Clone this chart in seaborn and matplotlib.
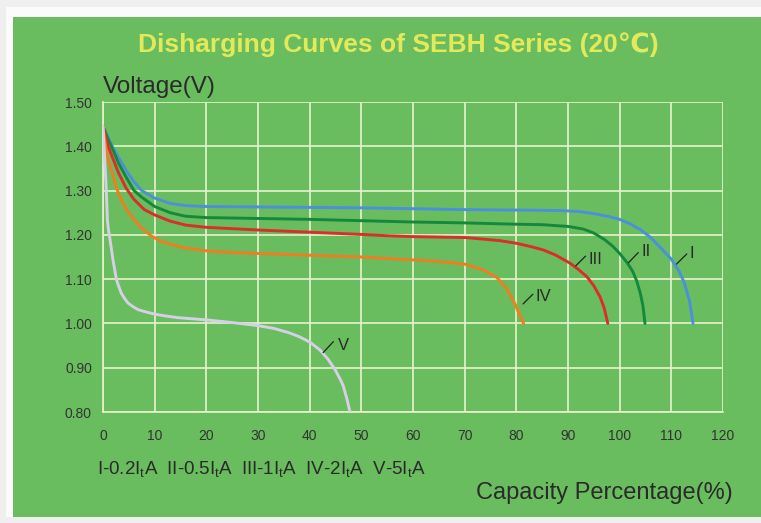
import pandas as pd
import matplotlib.pyplot as plt
from matplotlib.patches import Rectangle
import seaborn as sns

# curvas de descarga (capacidad %, voltaje V)
cap_I = [0, 1, 2, 3, 4.5, 6, 7.5, 10, 13, 16, 20, 30, 40, 50, 60, 70, 80, 88, 92, 95,
         98, 100, 102, 104, 106, 108, 110, 111.5, 112.5, 113.5, 114.2]
volt_I = [1.445, 1.42, 1.395, 1.375, 1.345, 1.32, 1.30, 1.283, 1.271, 1.266, 1.264, 1.263,
          1.262, 1.261, 1.259, 1.257, 1.256, 1.255, 1.253, 1.248, 1.241, 1.235, 1.225, 1.212,
          1.194, 1.170, 1.145, 1.118, 1.092, 1.052, 1.00]

cap_II = [0, 1, 2, 3, 4.5, 6, 7.5, 10, 13, 16, 20, 30, 40, 50, 60, 70, 80, 85, 90, 93, 95,
          97, 98.7, 100, 101.4, 102.5, 103.3, 104, 104.5, 104.9]
volt_II = [1.445, 1.415, 1.39, 1.362, 1.33, 1.30, 1.285, 1.264, 1.250, 1.242, 1.239, 1.237,
           1.235, 1.232, 1.229, 1.227, 1.224, 1.223, 1.219, 1.213, 1.204, 1.19, 1.174, 1.158,
           1.138, 1.118, 1.096, 1.068, 1.04, 1.00]

cap_III = [0, 1, 2, 3, 4.5, 6, 8, 10, 13, 16, 20, 30, 40, 50, 55, 60, 65, 70, 73, 76.8,
           80, 83, 85.2, 87.5, 90.4, 92, 93.7, 95, 96.2, 97, 97.7]
volt_III = [1.445, 1.40, 1.37, 1.34, 1.305, 1.28, 1.257, 1.245, 1.231, 1.222, 1.217, 1.211,
            1.206, 1.201, 1.198, 1.196, 1.195, 1.194, 1.191, 1.187, 1.181, 1.173, 1.166, 1.155,
            1.136, 1.122, 1.105, 1.085, 1.06, 1.035, 1.00]

cap_IV = [0, 0.5, 1, 2, 2.8, 3.5, 4.5, 5.9, 7.5, 9.4, 11, 13, 16, 20, 25, 30, 40, 50, 57.4,
          63.9, 70, 73.6, 76.2, 78.1, 79.7, 80.8, 81.4]
volt_IV = [1.445, 1.40, 1.37, 1.33, 1.30, 1.28, 1.258, 1.236, 1.215, 1.197, 1.187, 1.179,
           1.170, 1.164, 1.160, 1.158, 1.154, 1.150, 1.145, 1.141, 1.134, 1.121, 1.104, 1.079,
           1.045, 1.015, 1.00]

cap_V = [0, 0.3, 0.64, 0.85, 1.05, 1.29, 1.94, 2.58, 3.0, 3.55, 4.2, 4.84, 5.8, 6.8, 8.3,
         10, 12, 14.5, 20, 25, 30, 33, 36, 38, 40, 42, 43.5, 44.9, 46, 46.5, 47.2, 47.8]
volt_V = [1.445, 1.38, 1.30, 1.234, 1.212, 1.195, 1.143, 1.10, 1.085, 1.068, 1.056, 1.046,
          1.038, 1.031, 1.026, 1.021, 1.017, 1.013, 1.008, 1.002, 0.995, 0.989, 0.979, 0.970,
          0.958, 0.940, 0.920, 0.896, 0.872, 0.859, 0.83, 0.80]

series = ['I', 'II', 'III', 'IV', 'V']
colores = ['#4a90dc', '#14893e', '#da2e2a', '#ef7d22', '#d6cfe8']

# etiquetas de cada curva: posicion del texto y linea guia
etiqueta_x = [113.9, 105.2, 95.4, 85.2, 46.6]
etiqueta_y = [1.157, 1.162, 1.145, 1.060, 0.951]
guia_x = [(111.0, 113.0), (101.7, 103.6), (91.5, 93.4), (81.3, 83.2), (42.6, 44.6)]
guia_y = [(1.134, 1.157), (1.137, 1.160), (1.130, 1.152), (1.044, 1.066), (0.934, 0.959)]

ticks_x = list(range(0, 121, 10))
ticks_y = [0.80, 0.90, 1.00, 1.10, 1.20, 1.30, 1.40, 1.50]

datos = pd.concat([
    pd.DataFrame({'capacidad': c, 'voltaje': v, 'serie': s})
    for c, v, s in zip([cap_I, cap_II, cap_III, cap_IV, cap_V],
                       [volt_I, volt_II, volt_III, volt_IV, volt_V], series)
], ignore_index=True)

verde = '#69bd5e'
grilla = '#e8f2cc'
texto = '#2a2a2a'

sns.set_style('white', {'axes.facecolor': verde})
plt.rcParams['font.family'] = ['Liberation Sans', 'DejaVu Sans']
plt.rcParams['mathtext.fontset'] = 'custom'
plt.rcParams['mathtext.rm'] = 'Liberation Sans'
plt.rcParams['mathtext.it'] = 'Liberation Sans:italic'

fig = plt.figure(figsize=(7.61, 5.23), dpi=100, facecolor='#efefef')
# marco blanco y panel verde de fondo
fig.patches.append(Rectangle((6 / 761, 1 - 517 / 523), 1, (517 - 7) / 523,
                             transform=fig.transFigure, facecolor='#fbfbfb', edgecolor='none', zorder=-2))
fig.patches.append(Rectangle((13 / 761, 1 - 517 / 523), 1, (517 - 17) / 523,
                             transform=fig.transFigure, facecolor=verde, edgecolor='none', zorder=-1))

ax = fig.add_axes([103 / 761, 1 - 412 / 523, 620 / 761, 310 / 523])
ax.set_facecolor(verde)

sns.lineplot(data=datos, x='capacidad', y='voltaje', hue='serie', palette=colores,
             sort=False, estimator=None, linewidth=2.1, legend=False, ax=ax, zorder=3)

ax.set_xlim(0, 120)
ax.set_ylim(0.80, 1.50)
ax.set_xticks(ticks_x)
ax.set_yticks(ticks_y)
ax.set_yticklabels([f'{t:.2f}' for t in ticks_y])
ax.grid(True, color=grilla, linewidth=1.2, zorder=1)
for lado in ['top', 'right']:
    ax.spines[lado].set_visible(False)
for lado in ['left', 'bottom']:
    ax.spines[lado].set_color(grilla)
    ax.spines[lado].set_linewidth(1.2)
ax.tick_params(axis='both', length=0, labelsize=10, labelcolor='#333333')
ax.tick_params(axis='x', pad=12)
ax.tick_params(axis='y', pad=8)
ax.set_xlabel('')
ax.set_ylabel('')

for nombre, tx, ty, gx, gy in zip(series, etiqueta_x, etiqueta_y, guia_x, guia_y):
    ax.plot(gx, gy, color='#222222', linewidth=0.9, zorder=4)
    ax.text(tx, ty, nombre, fontsize=12, color=texto, ha='center', va='center', zorder=4)

fig.text(0.523, 1 - 45 / 523, 'Disharging Curves of SEBH Series (20\u2103)',
         fontsize=19, fontweight='bold', color='#e4e95a', ha='center', va='center')
fig.text(103 / 761, 1 - 93 / 523, 'Voltage(V)', fontsize=17.5, color=texto,
         ha='left', va='baseline')
fig.text(733 / 761, 1 - 499 / 523, 'Capacity Percentage(%)', fontsize=17, color=texto,
         ha='right', va='baseline')
fig.text(97 / 761, 1 - 474 / 523,
         r'I-0.2I$_\mathrm{t}$A  II-0.5I$_\mathrm{t}$A  III-1I$_\mathrm{t}$A  '
         r'IV-2I$_\mathrm{t}$A  V-5I$_\mathrm{t}$A',
         fontsize=13.5, color=texto, ha='left', va='baseline')

fig.savefig('out.png', dpi=100, facecolor=fig.get_facecolor())
